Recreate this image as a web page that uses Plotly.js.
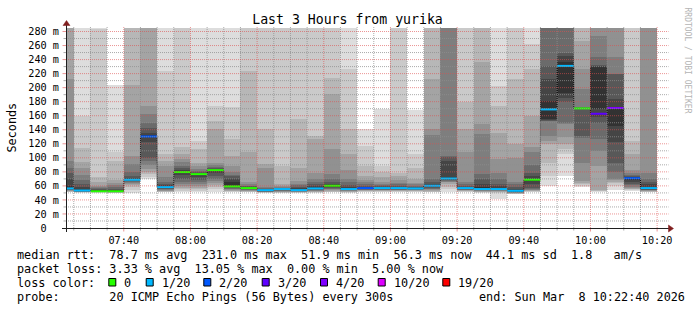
<!DOCTYPE html>
<html><head><meta charset="utf-8">
<script src="https://cdn.plot.ly/plotly-3.0.1.min.js"></script>
<style>html,body{margin:0;padding:0;background:#fff;} #chart{width:697px;height:310px;}</style>
</head><body><div id="chart"></div>
<script>
// ---------------- data ----------------
const graphStart = "07:22:40";
const graphEnd = "10:22:40";
const stepEnds = ["07:25","07:30","07:35","07:40","07:45","07:50","07:55","08:00","08:05","08:10","08:15","08:20",
  "08:25","08:30","08:35","08:40","08:45","08:50","08:55","09:00","09:05","09:10","09:15","09:20",
  "09:25","09:30","09:35","09:40","09:45","09:50","09:55","10:00","10:05","10:10","10:15","10:20"];
const medianMs = [56.4,53.5,52.3,52.3,68.7,130.5,58.3,79.7,76.8,82.5,59.3,56.9,54,55.5,54,56.4,60.2,55.5,
  56.9,56.9,56.9,56.4,60.2,70.6,56.9,55.5,55.5,53,68.8,169,231,170.4,162.8,171,71,56.9];
const lossCount = [1,1,0,0,1,2,1,0,0,0,0,0,1,1,1,1,0,1,2,1,1,1,1,1,1,1,1,1,0,1,1,0,3,4,2,1];
// 20 sorted ping rtts (ms) per step
const smoke = [
 [51,51.5,52,52.5,53,53.5,54,54.5,55,56,60,70,79,86,96,212,300,300,300,300],
 [50.5,50.8,51,51.2,51.5,51.8,52,52.2,52.5,53,55,58,62,68,75,85,94,114,159,300],
 [50.5,50.7,50.9,51.1,51.3,51.5,51.7,51.9,52.1,52.3,53,54,55,56.5,58,60,65,72,283,300],
 [50,50.2,50.4,50.6,50.8,51,51.2,51.4,51.6,51.9,53,54.5,56,58,61,64,68,96,108,204],
 [50,54.6,58,61.7,63,64.5,65.5,66.4,67.2,68,69.5,71,74,80,91,103,204,300,300,300],
 [70,73,77,80,84,90,96,100,122,129,132,136,142,150,162,174,300,300,300,300],
 [51,51.5,52,52.5,53,54,55,56,57,57.5,59.5,61,63,66,72,88,95,105,224,300],
 [51,53,55,57,60,62,66,70,75,79,81,83,86,89,94,98,105,115,300,300],
 [51,53,55,57,60,63,66,68,72,76,77.5,78.5,79.5,81,84,89,93,112,124,300],
 [52,55,58,61,64,67,70,74,78,81,83,84,85,87,90,93,141,153,174,300],
 [51,52,52.5,53,54,55,56,57,58,60,65,70,74.5,76,80,89,103,127,173,300],
 [51,51.5,52,52.5,53,53.5,54,55,55.5,56,57.5,58.5,59.5,60.5,62,65,108,224,300,300],
 [50,50.5,51,51.2,51.5,51.8,52,52.5,53,53.5,55,55.5,56,57,58,85,91,141,300,300],
 [50,50.5,51,51.5,52,52.5,53,53.5,54,54.5,55.8,56.2,56.8,57.5,58,60,62.6,89,300,300],
 [50,50.5,51,51.3,51.6,52,52.4,52.8,53.2,53.6,55.5,57,59,61,63,67,86,155,300,300],
 [50.5,51,51.5,52,52.5,53,53.5,54.5,55.5,56,58,60,63,66,70,79,127,131,300,300],
 [51,51.5,52,53,54,55,56,57,58,59,61,63,66,70,77,112,191,214,300,300],
 [50.5,51,51.5,52,52.5,53,53.5,54,54.5,55,57,59,61,65,70,82,105,141,226,300],
 [51,52,52.5,53,53.5,54,54.5,55,55.5,56,58,59,60,62,65,68,74,88,117,141],
 [51,52,52.5,53,53.5,54,54.5,55,55.5,56,57.5,58.5,59.5,61,63,66,72,80,89,170],
 [51,52,52.5,53,53.5,54,54.5,55,55.5,56,58,59,60,62,64,68,74,79,300,300],
 [51,52,52.5,53,53.5,54,54.5,55,55.5,56,57.5,58,59,60,62,64,70,85,105,168],
 [51,51.5,52,53,54,55,56,57,58,59.5,61.5,63,66,70,132,141,212,300,300,300],
 [52,56,59,62,65,66,67,68,69,70,72,96,101,103,300,300,300,300,300,300],
 [51,52,52.5,53,53.5,54,54.5,55,55.5,56,58,59,60,62,65,108,141,179,300,300],
 [50.5,51,51.5,52,52.5,53,53.5,54,54.5,55,59,63,70,77,134,148,236,300,300,300],
 [41,50,51.5,52,52.5,53,53.5,54,54.5,55,57,60,63,70,79,98,136,174,203,300],
 [48,48.5,49,49.5,50,50.5,51,51.5,52,52.5,54,56,59,62,66,100,120,212,300,300],
 [51.5,52,52.5,53,53.5,54,55,57,62,67,70,74,79,90,108,115,160,226,262,300],
 [60,74,93,120,124,131,152,153,154,155,181,212,231,300,300,300,300,300,300,300],
 [74,106,112,120,129,148,150,180,185,193,236,245,250,300,300,300,300,300,300,300],
 [59,60.5,62,64,67,93,128,131,169,170,170.6,171,171.5,172,198,226,267,300,300,300],
 [52,52.5,53,53.5,89,110,127,150,158,169,230,231,232,243,274,300,300,300,300,300],
 [54,60,64,66,68,70,80,93,122,146,172,184,219,220,243,300,300,300,300,300],
 [53,54,55,56,57,59,61,63,66,69,72,73,74,76,78,82,105,124,300,300],
 [51,51.5,52,52.5,53,53.5,54,54.5,55,56,59,62,65,70,79,300,300,300,300,300]
];
const lossLevels = [0,1,2,3,4,10,19];
const lossColors = ["#26ff00","#00b8ff","#0059ff","#5e00ff","#7e00ff","#dd00ff","#ff0000"];
const lossLabels = ["0","1/20","2/20","3/20","4/20","10/20","19/20"];
const xTickLabels = ["07:40","08:00","08:20","08:40","09:00","09:20","09:40","10:00","10:20"];
const yTickVals = [0,20,40,60,80,100,120,140,160,180,200,220,240,260,280];
const yTickLabels = ["0  ","20 m","40 m","60 m","80 m","100 m","120 m","140 m","160 m","180 m","200 m","220 m","240 m","260 m","280 m"];
const titleText = "Last 3 Hours from yurika";
const statLines = [
  "median rtt:  78.7 ms avg  231.0 ms max  51.9 ms min  56.3 ms now  44.1 ms sd  1.8   am/s",
  "packet loss: 3.33 % avg  13.05 % max  0.00 % min  5.00 % now"
];
const lossTitle = "loss color:";
const probeText = "probe:       20 ICMP Echo Pings (56 Bytes) every 300s";
const endText = "end: Sun Mar  8 10:22:40 2026";
const watermark = "RRDTOOL / TOBI OETIKER";

// ---------------- helpers ----------------
const FONT = "DejaVu Sans Mono";
const nb = s => s.replace(/ /g, "\u00a0");
const T = s => { const p = s.split(":").map(Number); return Date.UTC(2026, 2, 8, p[0], p[1], p[2] || 0); };
const L = 66, TOP = 28, W = 600, H = 200;
const px = p => (p - L) / W;
const py = p => (TOP + H - p) / H;
const FIVE = 5 * 60 * 1000;
const t0 = T(graphStart), t1 = T(graphEnd);
const ends = stepEnds.map(T);
const starts = ends.map(e => Math.max(e - FIVE, t0));
const centers = ends.map((e, i) => (starts[i] + e) / 2);
const widths = ends.map((e, i) => e - starts[i]);
const hex2 = v => v.toString(16).padStart(2, "0");
const grey = k => { const v = Math.floor(190 / 10 * (9 - k)) + 50; return "#" + hex2(v) + hex2(v) + hex2(v); };
const lossClass = n => { let c = 0; lossLevels.forEach((lv, j) => { if (n >= lv) c = j; }); return c; };

// ---------------- traces ----------------
const traces = [];
for (let k = 0; k < 10; k++) {
  traces.push({
    type: "bar", x: centers, width: widths,
    base: smoke.map(r => r[k]),
    y: smoke.map(r => r[19 - k] - r[k]),
    marker: { color: grey(k), line: { width: 0 } },
    hoverinfo: "skip"
  });
}
// black dotted step line of the median
traces.push({
  type: "scatter", mode: "lines",
  x: starts.concat([ends[ends.length - 1]]),
  y: medianMs.concat([medianMs[medianMs.length - 1]]),
  line: { shape: "hv", color: "#000000", width: 1, dash: "1px,1px" },
  hoverinfo: "skip"
});
// coloured median segments by loss
lossLevels.forEach((lv, j) => {
  const xs = [], ys = [];
  medianMs.forEach((m, i) => {
    if (lossClass(lossCount[i]) === j) { xs.push(starts[i], ends[i], null); ys.push(m, m, null); }
  });
  if (xs.length) traces.push({ type: "scatter", mode: "lines", x: xs, y: ys,
    line: { color: lossColors[j], width: 2 }, hoverinfo: "skip" });
});

// ---------------- shapes ----------------
const GRID = "rgba(143,143,143,0.75)", MGRID = "rgba(222,79,79,0.6)";
const shapes = [];
// vertical grid every 5 minutes
for (let t = T("07:25"); t <= t1; t += FIVE) {
  const major = (new Date(t).getUTCMinutes() % 20) === 0;
  shapes.push({ type: "line", layer: "above", xref: "x", yref: "paper", x0: t, x1: t, y0: py(228), y1: py(26),
    line: { color: major ? MGRID : GRID, width: 1, dash: "1px,1px" } });
  shapes.push({ type: "line", layer: "above", xref: "x", yref: "paper", x0: t, x1: t, y0: py(228.5), y1: py(major ? 231.5 : 230.5),
    line: { color: major ? MGRID : GRID, width: 1 } });
}
// horizontal grid every 10 ms
for (let v = 10; v <= 280; v += 10) {
  const major = v % 20 === 0;
  shapes.push({ type: "line", layer: "above", xref: "paper", yref: "y", x0: px(66), x1: px(668.5), y0: v, y1: v,
    line: { color: major ? MGRID : GRID, width: 1, dash: "1px,1px" } });
  shapes.push({ type: "line", layer: "above", xref: "paper", yref: "y", x0: px(major ? 62.5 : 63.5), x1: px(66), y0: v, y1: v,
    line: { color: major ? MGRID : GRID, width: 1 } });
}
// axes with arrows
const AX = "#1f1f1f", AR = "#801f1f";
shapes.push({ type: "line", layer: "above", xref: "paper", yref: "paper", x0: px(62), x1: px(669), y0: py(228.5), y1: py(228.5), line: { color: AX, width: 1 } });
shapes.push({ type: "line", layer: "above", xref: "paper", yref: "paper", x0: px(66.5), x1: px(66.5), y0: py(232), y1: py(24), line: { color: AX, width: 1 } });
shapes.push({ type: "path", layer: "above", xref: "paper", yref: "paper",
  path: `M ${px(668.5)},${py(225)} L ${px(673.5)},${py(228.5)} L ${px(668.5)},${py(232)} Z`, fillcolor: AR, line: { color: AR, width: 0.5 } });
shapes.push({ type: "path", layer: "above", xref: "paper", yref: "paper",
  path: `M ${px(63)},${py(25.5)} L ${px(66.5)},${py(20.5)} L ${px(70)},${py(25.5)} Z`, fillcolor: AR, line: { color: AR, width: 0.5 } });

// ---------------- annotations ----------------
const LF = { family: FONT, size: 11.8, color: "#000" };
const ann = [];
const txt = (s, x, y, extra) => ann.push(Object.assign({ text: nb(s), xref: "paper", yref: "paper", x: px(x), y: py(y),
  xanchor: "left", yanchor: "middle", showarrow: false, borderpad: 0, font: LF }, extra || {}));
txt(statLines[0], 16, 254.5);
txt(statLines[1], 16, 268.5);
txt(lossTitle, 16, 282.5);
txt(probeText, 16, 296.5);
txt(endText, 478, 296.5);
const boxX = [108.3, 145.7, 203.3, 261.7, 320, 377.7, 442.3];
lossLabels.forEach((lab, j) => {
  shapes.push({ type: "rect", layer: "above", xref: "paper", yref: "paper",
    x0: px(boxX[j] + 0.5), x1: px(boxX[j] + 7.5), y0: py(278.5), y1: py(286),
    fillcolor: lossColors[j], line: { color: "#000", width: 1 } });
  txt(lab, boxX[j] + 14.8, 282.5);
});
ann.push({ text: "Seconds", xref: "paper", yref: "paper", x: px(11), y: py(127.5), textangle: -90,
  xanchor: "center", yanchor: "middle", showarrow: false, borderpad: 0, font: LF });
ann.push({ text: nb(watermark), xref: "paper", yref: "paper", x: px(687.5), y: py(60), textangle: 90,
  xanchor: "center", yanchor: "middle", showarrow: false, borderpad: 0,
  font: { family: FONT, size: 8, color: "#b4b4b4" } });

const AF = { family: FONT, size: 10.2, color: "#000" };
const layout = {
  width: 697, height: 310,
  margin: { l: L, r: 697 - L - W, t: TOP, b: 310 - TOP - H, pad: 0 },
  paper_bgcolor: "#ffffff", plot_bgcolor: "#ffffff",
  showlegend: false, barmode: "overlay", bargap: 0,
  title: { text: titleText, x: 347.5 / 697, xanchor: "center", y: 1 - 19 / 310, yanchor: "middle",
    font: { family: FONT, size: 13.2, color: "#000" } },
  xaxis: { type: "date", range: [t0, t1], tickvals: xTickLabels.map(T), ticktext: xTickLabels,
    ticks: "outside", ticklen: 3, tickcolor: "rgba(0,0,0,0)", showgrid: false, zeroline: false, showline: false,
    tickfont: AF, fixedrange: true },
  yaxis: { range: [0, 285], tickvals: yTickVals, ticktext: yTickLabels.map(nb),
    ticks: "outside", ticklen: 4, tickcolor: "rgba(0,0,0,0)", showgrid: false, zeroline: false, showline: false,
    tickfont: AF, fixedrange: true },
  shapes: shapes, annotations: ann
};
Plotly.newPlot("chart", traces, layout, { staticPlot: true, displayModeBar: false });
</script></body></html>
